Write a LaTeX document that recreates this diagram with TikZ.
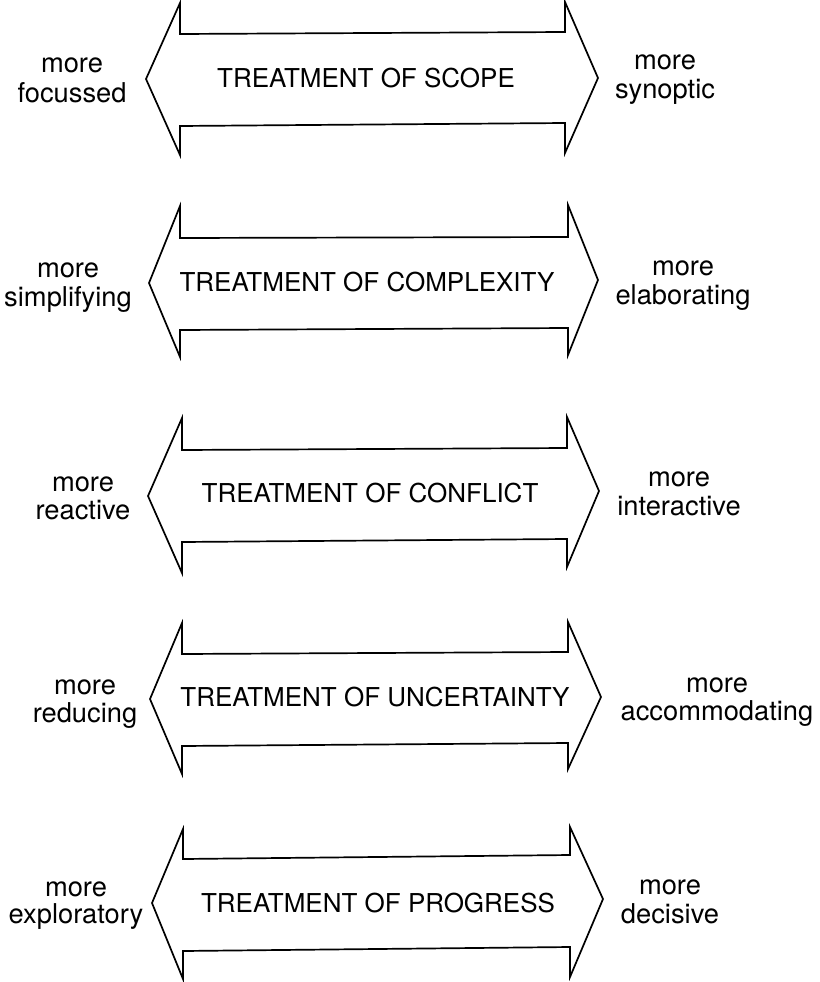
\documentclass[tikz,border=0pt]{standalone}
\usepackage{fontspec}
\setmainfont{TeX Gyre Heros}
\begin{document}
\begin{tikzpicture}[x=1pt,y=-1pt,
  dblarrow/.style={draw=black,line width=1.7pt,line join=miter,fill=white},
  title/.style={anchor=base,inner sep=0pt,font=\fontsize{26}{26}\selectfont},
  side/.style={anchor=base,inner sep=0pt,font=\fontsize{27.3}{27.3}\selectfont}]
\useasboundingbox (0,0) rectangle (819,982);
% Arrow 1
\draw[dblarrow] (180,3) -- (146,79) -- (180,155) -- (180,126) -- (565,123) -- (565,153) -- (598,78) -- (565,2) -- (565,32) -- (180,34) -- cycle;
% Arrow 2
\draw[dblarrow] (180,206) -- (149,283) -- (180,357) -- (180,330) -- (568,328) -- (568,355) -- (598,280) -- (568,205) -- (568,237) -- (180,238) -- cycle;
% Arrow 3
\draw[dblarrow] (182,418) -- (148,496) -- (182,573) -- (182,542) -- (567,539) -- (567,567) -- (599,491) -- (567,417) -- (567,448) -- (182,450) -- cycle;
% Arrow 4
\draw[dblarrow] (182,623) -- (150,699) -- (182,774) -- (182,746) -- (568,743) -- (568,769) -- (601,697) -- (568,622) -- (568,652) -- (182,654) -- cycle;
% Arrow 5
\draw[dblarrow] (183,829) -- (152,903) -- (183,979) -- (183,951) -- (570,947) -- (570,977) -- (603,899) -- (570,827) -- (570,855) -- (183,859) -- cycle;
% Titles
\node[title] (t1) at (366,87) {TREATMENT OF SCOPE};
\node[title] (t2) at (367,291) {TREATMENT OF COMPLEXITY};
\node[title] (t3) at (370,502) {TREATMENT OF CONFLICT};
\node[title] (t4) at (375,706) {TREATMENT OF UNCERTAINTY};
\node[title] (t5) at (378,912) {TREATMENT OF PROGRESS};
% Left labels
\node[side] (l1a) at (72,73) {more};
\node[side] (l1b) at (72,102) {focussed};
\node[side] (l2a) at (68,277) {more};
\node[side] (l2b) at (68,306) {simplifying};
\node[side] (l3a) at (83,491) {more};
\node[side] (l3b) at (83,519) {reactive};
\node[side] (l4a) at (85,694) {more};
\node[side] (l4b) at (85,722) {reducing};
\node[side] (l5a) at (76,896) {more};
\node[side] (l5b) at (76,923) {exploratory};
% Right labels
\node[side] (r1a) at (665,70) {more};
\node[side] (r1b) at (665,99) {synoptic};
\node[side] (r2a) at (683,275) {more};
\node[side] (r2b) at (683,304) {elaborating};
\node[side] (r3a) at (679,486) {more};
\node[side] (r3b) at (679,515) {interactive};
\node[side] (r4a) at (717,692) {more};
\node[side] (r4b) at (717,720) {accommodating};
\node[side] (r5a) at (670,894) {more};
\node[side] (r5b) at (670,923) {decisive};
\end{tikzpicture}
\end{document}
